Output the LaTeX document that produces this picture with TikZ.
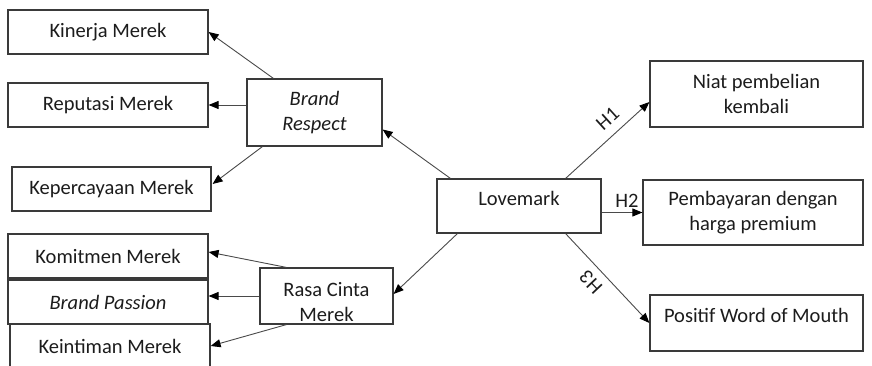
\documentclass[tikz,border=0pt]{standalone}
\usepackage{fontspec}
\setmainfont{Carlito}
\usepackage{tikz}
\usetikzlibrary{calc,arrows.meta}
\definecolor{ink}{HTML}{1C1C1C}
\definecolor{boxline}{HTML}{3A3A3A}
\definecolor{wireline}{HTML}{4A4A4A}
\tikzset{
  varbox/.style = {draw=boxline, fill=white, line width=1.2pt, inner sep=0pt, align=center,
                   font=\fontsize{20.5}{25.5}\selectfont\color{ink}},
  ital/.style   = {font=\fontsize{20.5}{25.5}\selectfont\itshape\color{ink}},
  link/.style   = {-{Triangle[length=10pt,width=8pt,color=black]}, draw=wireline, line width=0.9pt},
  hyp/.style    = {font=\fontsize{20.5}{24}\selectfont\color{ink}, inner sep=0pt, anchor=south},
}

\begin{document}
\begin{tikzpicture}[x=1pt,y=-1pt]
\path[use as bounding box] (0,0) rectangle (872,366);
\clip (0,0) rectangle (872,366);

% ---- brand respect --------------------------------------------------------
\node[varbox, minimum width=200, minimum height=44] (kinerja)     at (108,32)    {Kinerja Merek};
\node[varbox, minimum width=200, minimum height=44] (reputasi)    at (108,105)   {Reputasi Merek};
\node[varbox, minimum width=199, minimum height=44] (kepercayaan) at (111.5,189) {Kepercayaan Merek};
\node[varbox, ital, minimum width=135, minimum height=67] (respect) at (314.5,112.5) {Brand\\Respect};

% ---- rasa cinta merek -----------------------------------------------------
\node[varbox, minimum width=200, minimum height=44] (komitmen)  at (108,256) {Komitmen Merek};
\node[varbox, ital, minimum width=200, minimum height=44] (passion) at (108,302) {Brand Passion};
\node[varbox, minimum width=200, minimum height=44] (keintiman) at (110,346) {Keintiman Merek};
\node[varbox, minimum width=133, minimum height=56] (rasa) at (326.5,296) {\rule{0pt}{26pt}Rasa Cinta\\Merek};

% ---- lovemark and outcomes ------------------------------------------------
\node[varbox, minimum width=164, minimum height=54, text depth=16pt] (lovemark) at (519,206) {Lovemark};
\node[varbox, minimum width=213, minimum height=66] (niat)    at (756.5,94)  {Niat pembelian\\kembali};
\node[varbox, minimum width=220, minimum height=65] (bayar)   at (753,212.5) {Pembayaran dengan\\harga premium};
\node[varbox, minimum width=213, minimum height=56, text depth=16pt] (positif) at (756.5,323) {Positif Word of Mouth};

% ---- links ----------------------------------------------------------------
\draw[link] ($(respect.north west)+(27,0)$) -- (kinerja.east);
\draw[link] (respect.west |- reputasi.east) -- (reputasi.east);
\draw[link] ($(respect.south west)+(16,0)$) -- ($(kepercayaan.east)+(1,-5)$);

\draw[link] ($(lovemark.north west)+(14,0)$) -- ($(respect.east)+(0,17)$);
\draw[link] ($(lovemark.south west)+(21,0)$) -- ($(rasa.east)+(0,-2)$);

\draw[link] ($(rasa.north west)+(27,0)$) -- ($(komitmen.east)+(0,-4)$);
\draw[link] (rasa.west) -- (rasa.west -| passion.east);
\draw[link] ($(rasa.south west)+(27,0)$) -- (keintiman.east);

% hypotheses
\draw[link] ($(lovemark.north east)+(-36,0)$) -- ($(niat.west)+(0,8)$)
  node[hyp, pos=0.63, rotate=42.2, outer sep=9.5pt] (h1) {H1};
\draw[link] (lovemark.east |- bayar.west) -- (bayar.west)
  node[hyp, pos=0.62, outer sep=5pt] (h2) {H2};
\draw[link] ($(lovemark.south east)+(-36,0)$) -- (positif.west)
  node[hyp, pos=0.43, rotate=133.4, outer sep=8pt] (h3) {H3};

\end{tikzpicture}
\end{document}
